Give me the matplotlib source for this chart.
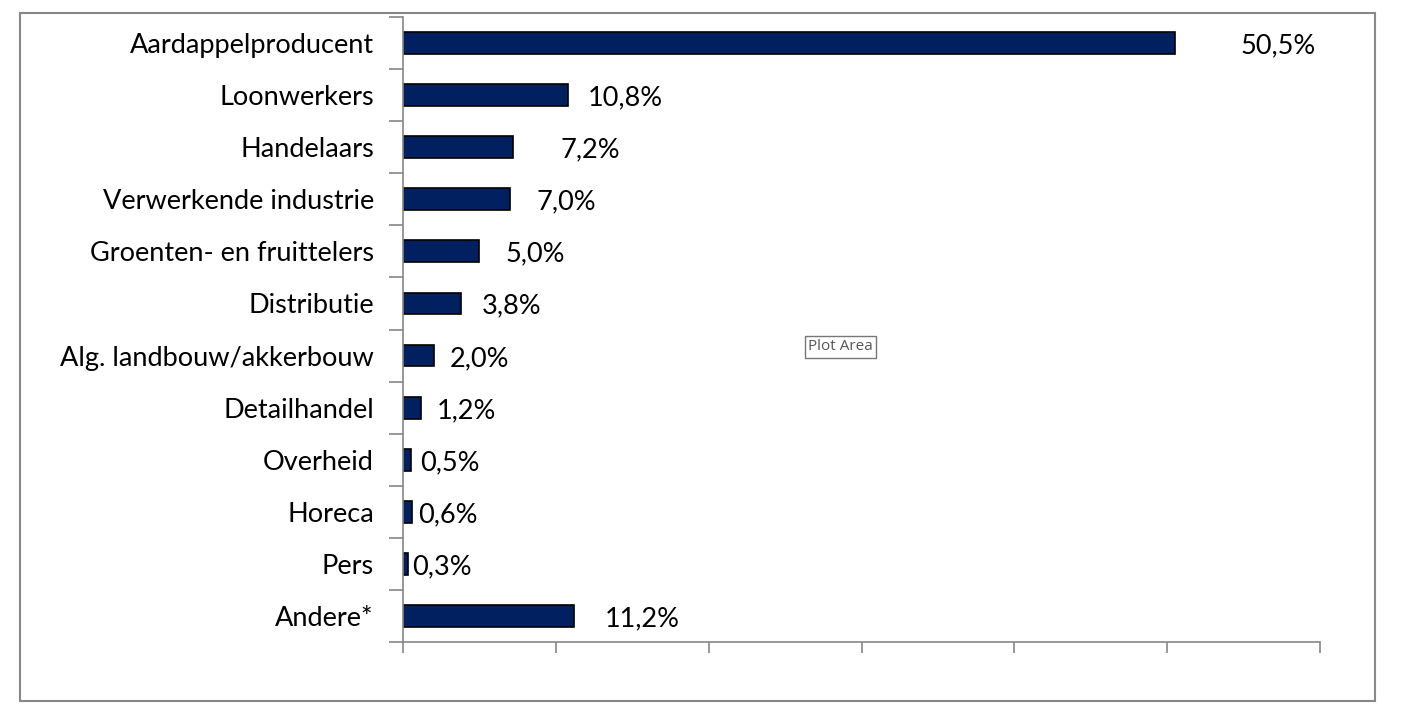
import matplotlib.pyplot as plt
import matplotlib.patches as mpatches
import numpy as np

plt.rcParams['font.family'] = ['Lato', 'DejaVu Sans']

# Data
categories = ["Aardappelproducent", "Loonwerkers", "Handelaars", "Verwerkende industrie",
              "Groenten- en fruittelers", "Distributie", "Alg. landbouw/akkerbouw",
              "Detailhandel", "Overheid", "Horeca", "Pers", "Andere*"]
values = [50.5, 10.8, 7.2, 7.0, 5.0, 3.8, 2.0, 1.2, 0.5, 0.6, 0.3, 11.2]
labels = ["50,5%", "10,8%", "7,2%", "7,0%", "5,0%", "3,8%", "2,0%", "1,2%",
          "0,5%", "0,6%", "0,3%", "11,2%"]
# label gap from bar end (points), as placed by hand in the original
label_gap = [47, 14, 34, 19, 19, 15, 12, 11, 7, 4, 3, 22]

fig = plt.figure(figsize=(14.01, 7.17), dpi=100)
ax = fig.add_axes([403 / 1401, 1 - 642 / 717, (1320 - 403) / 1401, (642 - 17) / 717])

n = len(categories)
y = np.arange(n)
ax.barh(y, values, height=0.42, color="#002060", edgecolor="black", linewidth=1.2)

for yi, v, lab, g in zip(y, values, labels, label_gap):
    ax.annotate(lab, (v, yi), xytext=(g, -2), textcoords="offset points",
                ha="left", va="center", fontsize=19.5, color="black")

ax.set_ylim(n - 0.5, -0.5)
ax.set_xlim(0, 60)
ax.set_yticks(y)
ax.set_yticklabels(categories, fontsize=19.5)
ax.tick_params(axis="y", length=0, pad=21)
ax.set_yticks(np.arange(-0.5, n, 1), minor=True)
ax.tick_params(axis="y", which="minor", length=10, color="#868686", width=1.2)
ax.set_xticks(np.arange(0, 61, 10))
ax.set_xticklabels([])
ax.tick_params(axis="x", length=8, color="#868686", width=1.2)

for s in ["top", "right"]:
    ax.spines[s].set_visible(False)
for s in ["left", "bottom"]:
    ax.spines[s].set_color("#868686")
    ax.spines[s].set_linewidth(1.2)

# chart area border
fig.patches.append(mpatches.Rectangle((20 / 1401, 1 - 701 / 717), (1375 - 20) / 1401, (701 - 13) / 717,
                                      transform=fig.transFigure, fill=False,
                                      edgecolor="#888888", linewidth=1.5))

# tooltip artefact
fig.text(808 / 1401, 1 - 347 / 717, "Plot Area", fontsize=11, color="#555555", va="center",
         family=["Open Sans", "DejaVu Sans"],
         bbox=dict(boxstyle="square,pad=0.2", facecolor="white", edgecolor="#777777", linewidth=1))

fig.savefig("out.png", dpi=100)
